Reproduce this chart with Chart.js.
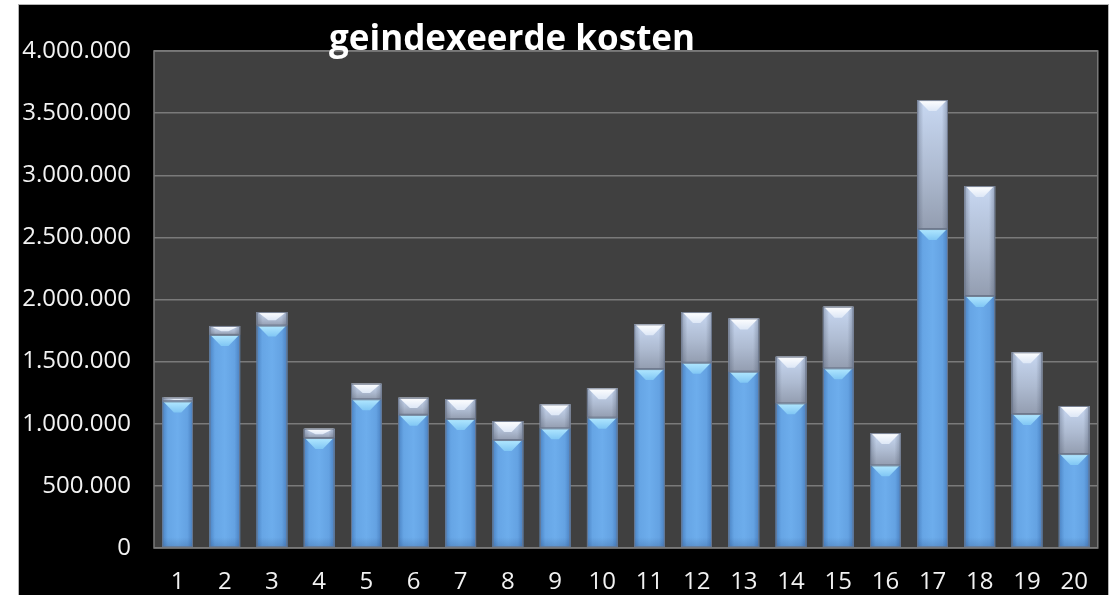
<!DOCTYPE html>
<html><head><meta charset="utf-8">
<script src="https://cdn.jsdelivr.net/npm/chart.js@4.4.1/dist/chart.umd.min.js"></script>
<style>
html,body{margin:0;padding:0;background:#fff;width:1114px;height:595px;overflow:hidden}
#wrap{position:absolute;left:19px;top:5px;width:1089px;height:590px;background:#000;box-shadow:0 0 0 1px #b4b4b4}
canvas{display:block}
</style></head><body>
<div id="wrap"><canvas id="c" width="1089" height="590"></canvas></div>
<script>
const titleText = 'geindexeerde kosten';
const categories = ['1','2','3','4','5','6','7','8','9','10','11','12','13','14','15','16','17','18','19','20'];
const basisKosten = [1180000,1715000,1790000,885000,1197000,1072000,1038000,869000,963000,1049000,1440000,1491000,1419000,1164000,1446000,665000,2567000,2028000,1078000,756000];
const indexKosten = [30000,72000,109000,75000,125000,137000,161000,153000,193000,236000,360000,408000,429000,376000,496000,260000,1038000,885000,497000,387000];
const yTickValues = [0,500000,1000000,1500000,2000000,2500000,3000000,3500000,4000000];
const yTickLabels = ['0','500.000','1.000.000','1.500.000','2.000.000','2.500.000','3.000.000','3.500.000','4.000.000'];

const FONT = '"Open Sans", "Liberation Sans", sans-serif';

const plotBg = {
  id: 'plotBg',
  beforeDraw(chart) {
    const {ctx, chartArea: a} = chart;
    ctx.save();
    ctx.fillStyle = '#404040';
    ctx.fillRect(a.left, a.top, a.right - a.left, a.bottom - a.top);
    ctx.restore();
  },
  afterDraw(chart) {
    const {ctx, chartArea: a} = chart;
    ctx.save();
    ctx.strokeStyle = '#7a7a7a';
    ctx.lineWidth = 1.5;
    ctx.strokeRect(a.left, a.top, a.right - a.left, a.bottom - a.top);
    ctx.font = 'bold 35px ' + FONT;
    ctx.fillStyle = '#ffffff';
    ctx.textAlign = 'center';
    ctx.textBaseline = 'alphabetic';
    ctx.fillText(titleText, 493, 45);
    ctx.restore();
  }
};

const bevel = {
  id: 'bevel',
  afterDatasetsDraw(chart) {
    const ctx = chart.ctx;
    chart.data.datasets.forEach((ds, di) => {
      const meta = chart.getDatasetMeta(di);
      meta.data.forEach(bar => {
        const p = bar.getProps(['x', 'y', 'base', 'width'], true);
        const l = p.x - p.width / 2, r = p.x + p.width / 2, w = p.width;
        const top = Math.min(p.y, p.base), bot = Math.max(p.y, p.base), h = bot - top;
        if (h <= 0) return;
        ctx.save();
        if (di === 0) {
          let g = ctx.createLinearGradient(l, 0, r, 0);
          g.addColorStop(0, '#4a82c2');
          g.addColorStop(0.18, '#66a5e5');
          g.addColorStop(0.5, '#6dadec');
          g.addColorStop(0.82, '#64a2e2');
          g.addColorStop(1, '#4a80c0');
          ctx.fillStyle = g;
          ctx.fillRect(l, top, w, h);
          let gb = ctx.createLinearGradient(0, bot - 10, 0, bot);
          gb.addColorStop(0, 'rgba(40,70,120,0)');
          gb.addColorStop(1, 'rgba(40,70,120,0.25)');
          ctx.fillStyle = gb;
          ctx.fillRect(l, bot - Math.min(10, h), w, Math.min(10, h));
          const bh = Math.min(11, h);
          let gt = ctx.createLinearGradient(0, top, 0, top + bh);
          gt.addColorStop(0, '#b2e8ff');
          gt.addColorStop(1, '#80c6f4');
          ctx.fillStyle = gt;
          ctx.beginPath();
          ctx.moveTo(l + 1, top);
          ctx.lineTo(r - 1, top);
          ctx.lineTo(p.x + w * 0.12, top + bh);
          ctx.lineTo(p.x - w * 0.12, top + bh);
          ctx.closePath();
          ctx.fill();
        } else {
          let g = ctx.createLinearGradient(0, top, 0, bot);
          g.addColorStop(0, '#c8d8f2');
          g.addColorStop(0.55, '#aebbd1');
          g.addColorStop(1, '#939db0');
          ctx.fillStyle = g;
          ctx.fillRect(l, top, w, h);
          let gh = ctx.createLinearGradient(l, 0, r, 0);
          gh.addColorStop(0, 'rgba(60,70,90,0.35)');
          gh.addColorStop(0.2, 'rgba(60,70,90,0)');
          gh.addColorStop(0.8, 'rgba(60,70,90,0)');
          gh.addColorStop(1, 'rgba(60,70,90,0.35)');
          ctx.fillStyle = gh;
          ctx.fillRect(l, top, w, h);
          const bh = Math.min(11, h * 0.6);
          let gt = ctx.createLinearGradient(0, top, 0, top + bh);
          gt.addColorStop(0, '#ffffff');
          gt.addColorStop(1, '#dde7f6');
          ctx.fillStyle = gt;
          ctx.beginPath();
          ctx.moveTo(l + 1, top);
          ctx.lineTo(r - 1, top);
          ctx.lineTo(p.x + w * 0.12, top + bh);
          ctx.lineTo(p.x - w * 0.12, top + bh);
          ctx.closePath();
          ctx.fill();
        }
        ctx.strokeStyle = 'rgba(105,115,135,0.9)';
        ctx.lineWidth = 1;
        ctx.strokeRect(l + 0.5, top + 0.5, w - 1, h - 1);
        ctx.restore();
      });
    });
  }
};

new Chart(document.getElementById('c'), {
  type: 'bar',
  data: {
    labels: categories,
    datasets: [
      {label: 'kosten', data: basisKosten, backgroundColor: '#66a6e6', borderWidth: 0, categoryPercentage: 1, barPercentage: 0.65},
      {label: 'indexatie', data: indexKosten, backgroundColor: '#b4c2da', borderWidth: 0, categoryPercentage: 1, barPercentage: 0.65}
    ]
  },
  options: {
    responsive: false,
    animation: false,
    layout: {padding: {top: 46, right: 4, left: 0, bottom: 0}},
    plugins: {legend: {display: false}, title: {display: false}, tooltip: {enabled: false}},
    scales: {
      x: {
        stacked: true,
        grid: {display: false, drawTicks: false},
        border: {display: false},
        ticks: {color: '#f2f2f2', font: {family: FONT, size: 24}, padding: 20, maxRotation: 0, autoSkip: false},
        afterFit(s) { s.height = 47; }
      },
      y: {
        stacked: true,
        min: 0, max: 4000000,
        afterBuildTicks(s) { s.ticks = yTickValues.map(v => ({value: v})); },
        grid: {color: '#7a7a7a', lineWidth: 1.5, drawTicks: false},
        border: {display: false},
        ticks: {
          color: '#f2f2f2', font: {family: FONT, size: 24}, padding: 23,
          callback: (v) => yTickLabels[yTickValues.indexOf(v)]
        },
        afterFit(s) { s.width = 135; }
      }
    }
  },
  plugins: [plotBg, bevel]
});
</script>
</body></html>
